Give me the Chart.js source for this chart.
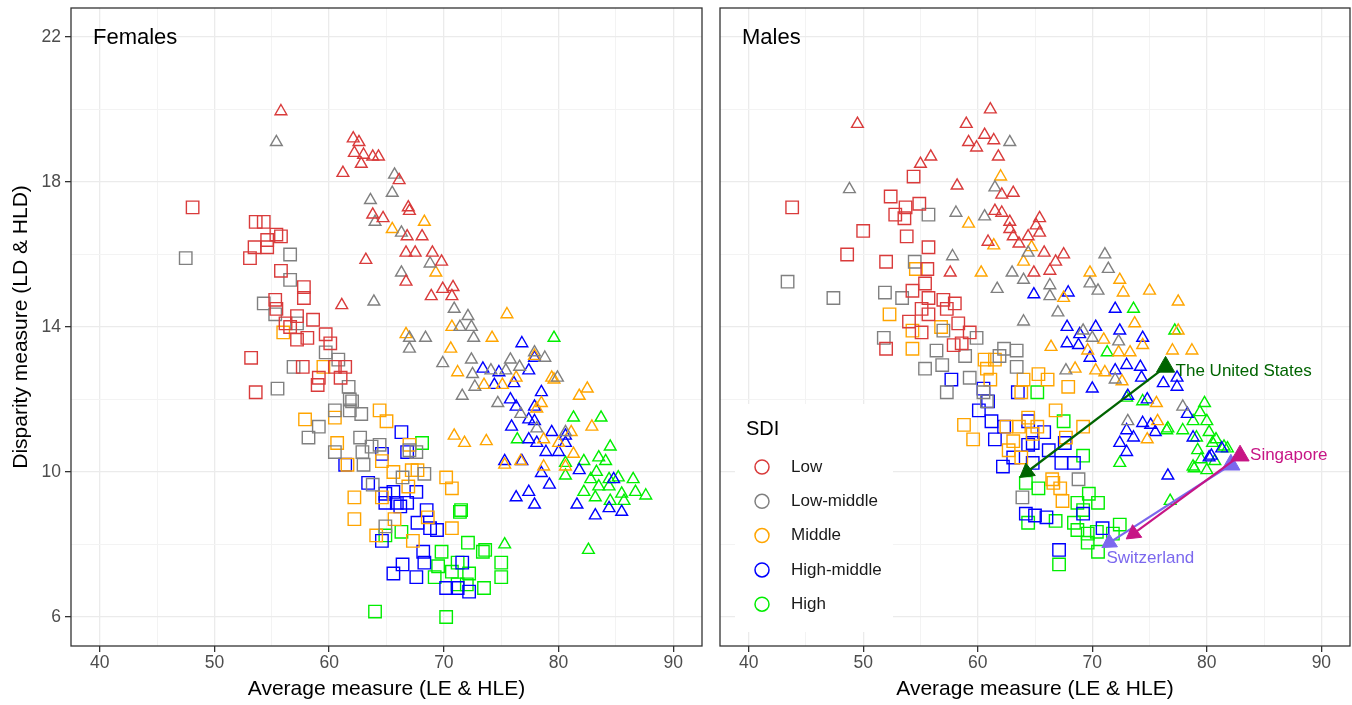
<!DOCTYPE html>
<html>
<head>
<meta charset="utf-8">
<script src="https://cdn.jsdelivr.net/npm/chart.js@4"></script>
<style>
  body { margin: 0; background: #fff; }
  #wrap { position: relative; width: 1352px; height: 705px; }
  canvas { position: absolute; top: 0; }
</style>
</head>
<body>
<div id="wrap">
  <canvas id="fem" width="710" height="705" style="left:0"></canvas>
  <canvas id="mal" width="642" height="705" style="left:710px"></canvas>
</div>
<script>
// SDI groups
const sdiLevels = ['Low', 'Low-middle', 'Middle', 'High-middle', 'High'];
const sdiColors = ['#D93B3B', '#808080', '#FFA500', '#0000FF', '#00EE00'];

const xTicks = [40, 45, 50, 55, 60, 65, 70, 75, 80, 85, 90];
const yTicks = [6, 8, 10, 12, 14, 16, 18, 20, 22];

// Females, LE / LD (triangles)
const F_LE_Low = [[55.8,19.95],[62.1,19.2],[62.6,19.1],[62.2,18.8],[63.0,18.75],[63.8,18.7],[64.3,18.7],[62.8,18.5],[61.2,18.25],[66.1,18.05],[66.9,17.3],[67.0,17.2],[63.8,17.1],[64.7,17.0],[66.8,16.5],[68.1,16.5],[66.7,16.05],[67.5,16.05],[69.0,16.05],[69.8,15.8],[63.2,15.85],[66.7,15.25],[68.9,14.85],[69.9,15.05],[70.7,14.85],[61.1,14.6],[70.8,15.1]];
const F_LE_LowMid = [[55.4,19.1],[65.7,18.2],[65.5,17.7],[63.6,17.5],[64.0,16.9],[66.3,16.6],[68.8,15.75],[66.3,15.5],[63.9,14.7],[70.9,14.5],[72.1,14.3],[71.4,14.0],[72.4,14.0],[72.6,13.7],[67.0,13.7],[68.4,13.7],[67.0,13.4],[69.9,13.0],[72.4,13.1],[75.8,13.1],[76.6,12.9],[78.8,13.15],[72.5,12.7],[74.1,12.8],[75.4,12.8],[72.7,12.35],[71.6,12.1],[74.7,11.9],[79.9,12.6],[77.9,13.3],[76.7,11.6],[78.1,11.2],[80.6,11.1]];
const F_LE_Mid = [[68.3,16.9],[65.5,16.7],[69.3,15.5],[70.7,14.0],[66.7,13.8],[70.6,13.4],[71.2,12.75],[75.5,14.35],[74.2,13.7],[77.9,13.2],[79.4,12.6],[79.6,12.55],[76.3,12.6],[75.1,12.4],[73.5,12.4],[82.5,12.3],[81.8,12.1],[78.5,11.9],[78.1,11.75],[70.9,11.0],[71.8,10.8],[73.7,10.85],[82.9,11.25],[81.1,11.1],[78.7,10.9],[80.0,10.8],[81.3,10.5],[75.3,10.2],[76.7,10.3],[78.7,10.15],[80.6,10.15]];
const F_LE_HighMid = [[76.8,13.55],[77.9,13.15],[77.4,12.8],[73.4,12.85],[74.8,12.75],[74.4,12.4],[76.1,12.45],[78.5,12.2],[75.8,12.0],[76.3,11.8],[77.9,11.8],[77.4,11.45],[77.9,11.4],[75.9,11.25],[79.4,11.1],[80.6,11.0],[77.4,10.9],[78.1,10.8],[78.9,10.55],[80.0,10.55],[80.6,10.8],[75.3,10.3],[76.8,10.3],[78.5,9.97],[79.2,9.65],[81.8,10.05],[84.8,9.8],[76.3,9.3],[77.4,9.45],[77.9,9.1],[81.6,9.1],[83.2,8.8],[84.4,9.0],[85.5,8.9]];
const F_LE_High = [[79.6,13.7],[81.3,11.5],[83.7,11.5],[76.4,10.9],[80.6,10.25],[80.6,9.9],[82.2,10.3],[83.5,10.4],[84.5,10.7],[84.1,10.3],[83.3,10.0],[82.8,9.8],[82.2,9.45],[83.5,9.6],[84.4,9.8],[85.2,9.85],[86.5,9.8],[84.4,9.6],[83.2,9.3],[85.5,9.4],[86.7,9.45],[87.6,9.35],[84.5,9.2],[85.7,9.2],[82.6,7.85],[75.3,8.0]];

// Females, HLE / HLD (squares)
const F_HLE_Low = [[48.1,17.3],[53.6,16.9],[54.3,16.9],[55.4,16.55],[55.8,16.5],[54.6,16.4],[53.5,16.2],[54.6,16.2],[53.1,15.9],[55.8,15.55],[57.8,15.1],[57.8,14.8],[55.3,14.75],[55.4,14.5],[57.2,14.3],[58.6,14.2],[56.6,14.0],[57.2,13.65],[58.1,13.7],[59.7,13.8],[60.1,13.55],[53.2,13.15],[57.7,12.9],[60.5,12.9],[61.4,12.9],[59.1,12.6],[61.0,12.6],[59.0,12.4],[53.6,12.2],[56.2,14.1]];
const F_HLE_LowMid = [[47.5,15.9],[56.6,16.0],[56.6,15.3],[54.3,14.65],[55.3,14.35],[57.2,14.1],[59.7,13.3],[60.8,13.1],[56.9,12.9],[61.7,12.35],[55.5,12.3],[61.8,12.0],[60.5,11.7],[61.8,11.7],[62.8,11.6],[62.0,11.95],[59.1,11.25],[58.2,10.95],[62.7,10.95],[64.4,10.75],[60.5,10.55],[62.9,10.55],[63.0,10.2],[63.7,10.7],[67.6,10.55],[68.3,9.95],[66.4,9.85],[63.8,9.65],[64.9,8.5],[67.0,10.6]];
const F_HLE_Mid = [[56.0,13.85],[59.5,12.9],[57.9,11.45],[60.5,11.5],[64.4,11.7],[65.0,11.4],[60.7,10.8],[61.6,10.2],[64.6,10.3],[65.6,10.0],[67.2,10.05],[67.7,10.05],[66.9,9.6],[70.2,9.85],[70.7,9.55],[62.2,9.3],[62.2,8.7],[64.1,8.25],[68.6,8.75],[70.7,8.45],[67.0,10.75],[64.6,9.3],[67.3,8.1],[65.7,8.7]];
const F_HLE_HighMid = [[66.3,11.1],[66.8,10.55],[61.4,10.2],[64.6,10.5],[63.4,9.7],[64.9,9.4],[65.6,9.45],[64.9,9.15],[65.9,9.15],[66.8,9.15],[67.6,9.45],[68.5,8.95],[67.7,8.6],[68.8,8.45],[69.4,8.4],[64.6,8.1],[68.2,7.8],[68.3,7.5],[66.4,7.45],[65.6,7.2],[67.6,7.1],[70.2,6.8],[71.2,6.8],[72.2,6.7],[71.6,7.5],[66.2,9.05]];
const F_HLE_High = [[68.1,10.8],[71.4,8.9],[64.9,8.25],[66.3,8.35],[69.8,7.8],[72.1,8.05],[73.4,7.8],[71.2,7.5],[69.5,7.4],[70.7,7.25],[72.2,7.2],[75.0,7.5],[75.0,7.1],[73.5,6.8],[71.2,6.9],[72.0,6.9],[64.0,6.15],[70.2,6.0],[71.5,8.95],[73.6,7.85],[69.2,7.1]];

// Males, LE / LD (triangles)
const M_LE_Low = [[49.5,19.6],[61.1,20.0],[59.0,19.6],[60.6,19.3],[61.4,19.15],[59.2,19.1],[59.9,18.95],[61.8,18.7],[55.9,18.7],[55.0,18.5],[58.2,17.9],[63.1,17.7],[62.1,17.65],[61.5,17.2],[62.1,17.15],[62.8,16.9],[65.4,17.0],[65.1,16.8],[62.8,16.7],[65.4,16.6],[63.1,16.5],[64.4,16.5],[60.9,16.35],[65.8,16.05],[66.8,15.8],[64.9,15.5],[66.3,15.55],[57.6,15.5],[63.6,16.3],[67.5,16.0]];
const M_LE_LowMid = [[48.8,17.8],[62.8,19.1],[61.5,17.85],[58.1,17.15],[60.6,17.05],[57.8,15.95],[63.0,15.5],[64.0,15.3],[61.7,15.05],[66.3,15.15],[66.3,14.85],[64.0,14.15],[64.4,16.05],[67.0,14.4],[71.1,16.0],[71.4,15.6],[69.8,15.2],[70.5,15.0],[69.2,13.9],[70.0,13.7],[67.7,12.8],[72.3,13.6],[72.0,12.55],[77.9,11.8],[73.1,11.4]];
const M_LE_Mid = [[62.0,18.15],[59.2,16.85],[61.4,16.25],[60.3,15.5],[66.4,13.45],[64.7,16.2],[64.0,15.8],[69.8,15.5],[72.4,15.3],[75.0,15.0],[77.5,14.7],[72.7,14.95],[67.5,14.8],[73.7,14.1],[77.5,13.9],[71.0,13.65],[74.4,13.5],[77.0,13.35],[78.7,13.35],[72.3,13.3],[73.3,13.3],[69.6,13.35],[68.5,12.85],[70.3,12.8],[71.1,12.75],[72.6,12.5],[75.6,11.9],[75.7,11.4],[74.8,10.9]];
const M_LE_HighMid = [[64.9,14.9],[67.9,14.95],[72.0,14.5],[67.8,14.0],[68.9,13.8],[70.3,14.0],[72.4,13.9],[74.4,13.7],[67.8,13.55],[68.8,13.5],[69.8,13.15],[72.0,12.8],[73.0,12.95],[74.2,12.9],[74.3,12.6],[76.2,12.45],[77.4,12.35],[70.0,12.3],[73.1,12.1],[74.8,12.0],[78.3,11.6],[73.0,11.15],[74.4,11.35],[75.5,11.1],[72.4,10.8],[73.6,10.95],[73.0,10.55],[80.2,10.4],[76.6,9.9],[77.4,12.6],[78.8,10.95],[81.3,10.65],[80.4,10.45],[75.1,11.3]];
const M_LE_High = [[73.6,14.5],[77.2,13.9],[71.3,13.3],[73.0,12.05],[74.4,11.95],[76.5,11.15],[77.9,11.15],[79.4,11.65],[78.8,11.4],[80.0,11.4],[79.1,10.95],[80.2,11.1],[80.5,10.8],[81.5,10.7],[79.2,10.6],[79.5,10.35],[80.7,10.3],[78.8,10.15],[80.0,10.05],[72.4,10.25],[76.6,11.2],[80.8,10.9],[81.8,10.65],[78.9,10.1],[76.8,9.2],[79.8,11.9]];

// Males, HLE / HLD (squares)
const M_HLE_Low = [[43.8,17.3],[50.0,16.65],[48.6,16.0],[54.4,18.15],[52.4,17.6],[53.7,17.3],[54.9,17.4],[52.8,17.1],[53.6,17.0],[53.8,16.5],[55.7,16.2],[52.0,15.8],[55.6,15.6],[55.4,15.2],[54.3,15.0],[55.7,14.8],[57.0,14.75],[58.0,14.65],[55.1,14.5],[57.3,14.5],[55.7,14.35],[54.0,14.15],[58.3,14.1],[55.1,13.85],[59.3,13.85],[57.9,13.5],[58.6,13.55],[52.0,13.4]];
const M_HLE_LowMid = [[43.4,15.25],[47.4,14.8],[55.7,17.1],[54.5,15.8],[51.9,14.95],[53.4,14.8],[51.8,13.7],[57.0,13.9],[59.9,13.7],[56.4,13.35],[56.9,12.95],[55.4,12.85],[58.9,13.2],[62.3,13.4],[63.4,13.35],[63.4,12.9],[59.3,12.6],[57.3,12.2],[60.5,12.2],[60.8,11.95],[61.9,13.2],[63.9,9.3],[68.8,9.8]];
const M_HLE_Mid = [[54.6,15.6],[52.3,14.35],[54.3,13.9],[54.3,13.4],[56.8,14.0],[60.6,13.1],[61.5,13.1],[60.8,12.85],[61.1,12.55],[64.0,12.55],[66.1,12.55],[58.8,11.3],[59.6,10.9],[67.9,12.35],[63.8,12.2],[66.8,11.7],[64.4,11.5],[65.2,11.25],[62.5,11.25],[63.6,11.25],[63.1,10.85],[64.8,11.05],[67.7,10.95],[69.2,11.25],[63.8,10.4],[66.5,9.8],[62.7,10.6],[66.6,9.7],[67.2,9.55],[67.4,9.2],[65.3,12.7]];
const M_HLE_HighMid = [[57.7,12.55],[60.5,12.3],[63.5,12.2],[60.1,11.7],[61.2,11.4],[61.5,10.9],[62.2,10.15],[60.9,11.95],[62.3,11.25],[64.4,11.4],[64.8,10.8],[65.8,11.1],[67.6,10.8],[67.3,10.25],[68.4,10.25],[64.4,10.75],[64.8,10.25],[64.2,8.85],[65.0,8.8],[66.0,8.75],[69.2,8.85],[70.9,8.45],[67.1,7.85],[63.1,10.4],[66.2,10.6]];
const M_HLE_High = [[65.2,12.2],[67.5,11.4],[69.2,10.45],[64.2,9.7],[65.3,9.55],[64.4,8.6],[66.8,8.65],[68.7,9.15],[69.7,9.4],[70.5,9.15],[68.4,8.6],[68.7,8.4],[69.6,8.3],[69.6,8.05],[70.4,8.35],[70.5,7.8],[71.8,8.3],[72.4,8.55],[67.1,7.45],[69.2,8.95]];

// highlighted countries (males): LE/LD point -> HLE/HLD point
const arrowNames = ['The United States', 'Singapore', 'Switzerland'];
const arrowColors = ['#006400', '#C71585', '#7B68EE'];
const usArrow = [[76.4,12.9],[64.3,10.0]];
const sgArrow = [[82.9,10.45],[73.6,8.3]];
const chArrow = [[82.1,10.2],[71.5,8.05]];

const FONT = '"Liberation Sans", Arial, Helvetica, sans-serif';
Chart.defaults.font.family = FONT;

function pts(arr) {
  return arr.map(p => ({x: p[0], y: p[1]}));
}

function pointSets(leList, hleList) {
  const sets = [];
  for (let i = 0; i < sdiLevels.length; i++) {
    sets.push({
      label: sdiLevels[i] + ' LE', data: pts(leList[i]),
      pointStyle: 'triangle', pointRadius: 6.8, pointBorderWidth: 1.4,
      pointBorderColor: sdiColors[i], pointBackgroundColor: 'rgba(0,0,0,0)'
    });
    sets.push({
      label: sdiLevels[i] + ' HLE', data: pts(hleList[i]),
      pointStyle: 'rect', pointRadius: 8.8, pointBorderWidth: 1.4,
      pointBorderColor: sdiColors[i], pointBackgroundColor: 'rgba(0,0,0,0)'
    });
  }
  return sets;
}

function arrowRotation(ctx) {
  if (ctx.dataIndex !== 1) return 0;
  const d = ctx.dataset.data;
  const sx = ctx.chart.scales.x, sy = ctx.chart.scales.y;
  const dx = sx.getPixelForValue(d[1].x) - sx.getPixelForValue(d[0].x);
  const dy = sy.getPixelForValue(d[1].y) - sy.getPixelForValue(d[0].y);
  return Math.atan2(dx, -dy) * 180 / Math.PI;
}

function arrowSets() {
  return [usArrow, sgArrow, chArrow].map((a, i) => ({
    label: arrowNames[i], data: pts(a), showLine: true,
    borderColor: arrowColors[i], borderWidth: 2.2,
    pointStyle: 'triangle', pointRadius: [10.5, 9], pointRotation: arrowRotation,
    pointBackgroundColor: arrowColors[i], pointBorderColor: arrowColors[i], pointBorderWidth: 1
  }));
}

const isMajorX = v => v % 10 === 0;
const isMajorY = v => v % 4 === 2;

function xScale() {
  return {
    type: 'linear', min: 37.5, max: 92.5, bounds: 'data',
    afterBuildTicks: s => { s.ticks = xTicks.map(v => ({value: v})); },
    afterFit: s => { s.height = 59; s.paddingLeft = 0; s.paddingRight = 0; },
    ticks: {
      autoSkip: false, maxRotation: 0, padding: 1, color: '#4D4D4D',
      font: {size: 17.5},
      callback: v => isMajorX(v) ? String(v) : ''
    },
    grid: {
      color: c => isMajorX(c.tick.value) ? '#EBEBEB' : '#F3F3F3',
      lineWidth: c => isMajorX(c.tick.value) ? 1.3 : 1,
      tickLength: 6,
      tickColor: c => isMajorX(c.tick.value) ? '#333333' : 'rgba(0,0,0,0)',
      tickWidth: 1.3
    },
    border: {display: false},
    title: {
      display: true, text: 'Average measure (LE & HLE)', color: '#000',
      font: {size: 21}, padding: {top: 0, bottom: 3}
    }
  };
}

function yScale(showAxis) {
  return {
    type: 'linear', min: 5.2, max: 22.8, bounds: 'data',
    afterBuildTicks: sc => { sc.ticks = yTicks.map(v => ({value: v})); },
    afterFit: sc => { sc.width = showAxis ? 71 : 0; sc.paddingTop = 0; sc.paddingBottom = 0; },
    ticks: {
      display: showAxis, autoSkip: false, padding: 4, color: '#4D4D4D',
      font: {size: 17.5},
      callback: v => isMajorY(v) ? String(v) : ''
    },
    grid: {
      color: c => isMajorY(c.tick.value) ? '#EBEBEB' : '#F3F3F3',
      lineWidth: c => isMajorY(c.tick.value) ? 1.3 : 1,
      drawTicks: showAxis, tickLength: 6,
      tickColor: c => isMajorY(c.tick.value) ? '#333333' : 'rgba(0,0,0,0)',
      tickWidth: 1.3
    },
    border: {display: false},
    title: {
      display: showAxis, text: 'Disparity measure (LD & HLD)', color: '#000',
      font: {size: 21}, padding: {top: 9, bottom: 0}
    }
  };
}

// panel border + facet label
const panelPlugin = {
  id: 'panel',
  afterDatasetsDraw(chart, args, opts) {
    const {ctx, chartArea: a} = chart;
    ctx.save();
    ctx.strokeStyle = '#333333';
    ctx.lineWidth = 1.3;
    ctx.strokeRect(a.left, a.top, a.right - a.left, a.bottom - a.top);
    ctx.fillStyle = '#000';
    ctx.font = '22px ' + FONT;
    ctx.textBaseline = 'middle';
    ctx.textAlign = 'left';
    ctx.fillText(opts.title, a.left + 22, 38);
    ctx.restore();
  }
};

// country labels
const labelPos = [
  {idx: 0, dx: 10, dy: 4},
  {idx: 0, dx: 10, dy: 0},
  {idx: 1, dx: -3, dy: 16}
];
const countryLabels = {
  id: 'countryLabels',
  afterDatasetsDraw(chart) {
    const {ctx} = chart;
    const sx = chart.scales.x, sy = chart.scales.y;
    ctx.save();
    ctx.font = '17px ' + FONT;
    ctx.textBaseline = 'middle';
    ctx.textAlign = 'left';
    [usArrow, sgArrow, chArrow].forEach((a, i) => {
      const p = a[labelPos[i].idx];
      ctx.fillStyle = arrowColors[i];
      ctx.fillText(arrowNames[i], sx.getPixelForValue(p[0]) + labelPos[i].dx, sy.getPixelForValue(p[1]) + labelPos[i].dy);
    });
    ctx.restore();
  }
};

// SDI legend inside the males panel
const sdiLegend = {
  id: 'sdiLegend',
  afterDraw(chart) {
    const {ctx} = chart;
    ctx.save();
    ctx.fillStyle = '#fff';
    ctx.fillRect(25, 404, 158, 228);
    ctx.fillStyle = '#000';
    ctx.font = '20px ' + FONT;
    ctx.textBaseline = 'middle';
    ctx.textAlign = 'left';
    ctx.fillText('SDI', 36, 429);
    ctx.font = '17px ' + FONT;
    sdiLevels.forEach((lv, i) => {
      const y = 467 + i * 34.3;
      ctx.beginPath();
      ctx.arc(52, y, 7, 0, Math.PI * 2);
      ctx.strokeStyle = sdiColors[i];
      ctx.lineWidth = 1.5;
      ctx.stroke();
      ctx.fillStyle = '#1A1A1A';
      ctx.fillText(lv, 81, y);
    });
    ctx.restore();
  }
};

function makeChart(id, datasets, title, isLeft, extra) {
  return new Chart(document.getElementById(id), {
    type: 'scatter',
    data: {datasets: datasets},
    options: {
      responsive: false,
      animation: false,
      layout: {
        autoPadding: false,
        padding: isLeft ? {left: 0, right: 8, top: 8, bottom: 0} : {left: 10, right: 2, top: 8, bottom: 0}
      },
      scales: {x: xScale(), y: yScale(isLeft)},
      plugins: {
        legend: {display: false},
        tooltip: {enabled: false},
        panel: {title: title}
      }
    },
    plugins: [panelPlugin].concat(extra)
  });
}

makeChart('fem',
  pointSets([F_LE_Low, F_LE_LowMid, F_LE_Mid, F_LE_HighMid, F_LE_High],
            [F_HLE_Low, F_HLE_LowMid, F_HLE_Mid, F_HLE_HighMid, F_HLE_High]),
  'Females', true, []);

makeChart('mal',
  arrowSets().concat(pointSets([M_LE_Low, M_LE_LowMid, M_LE_Mid, M_LE_HighMid, M_LE_High],
                               [M_HLE_Low, M_HLE_LowMid, M_HLE_Mid, M_HLE_HighMid, M_HLE_High])),
  'Males', false, [countryLabels, sdiLegend]);
</script>
</body>
</html>
